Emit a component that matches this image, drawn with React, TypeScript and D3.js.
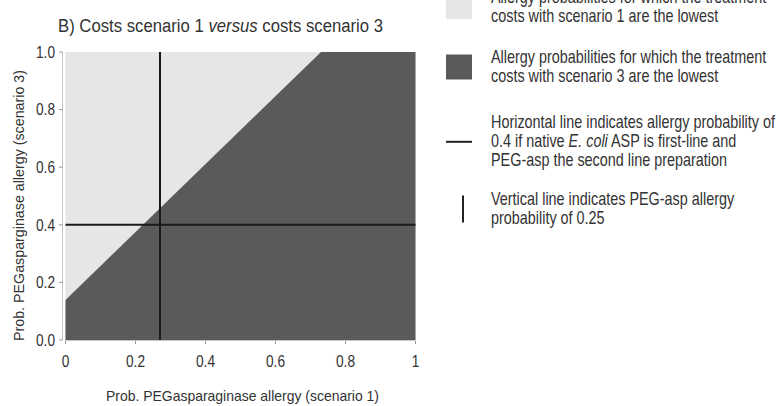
import { useMemo } from 'react';
import type { ReactNode } from 'react';
import * as d3 from 'd3';

// chart data
const xTicks = [0, 0.2, 0.4, 0.6, 0.8, 1];
const yTicks = [0, 0.2, 0.4, 0.6, 0.8, 1.0];
const boundaryX = [0, 0.73, 1];
const boundaryY = [0.139, 1, 1];
const horizontalAt = 0.4;
const verticalAt = 0.27;

const legendKinds = ['light', 'dark', 'hline', 'vline'];
const legendLines = [
  [['Allergy probabilities for which the treatment'], ['costs with scenario 1 are the lowest']],
  [['Allergy probabilities for which the treatment'], ['costs with scenario 3 are the lowest']],
  [
    ['Horizontal line indicates allergy probability of'],
    ['0.4 if native ', 'E. coli', ' ASP is first-line and'],
    ['PEG-asp the second line preparation'],
  ],
  [['Vertical line indicates PEG-asp allergy'], ['probability of 0.25']],
];

const FONT = '"Liberation Sans", Arial, sans-serif';
const LIGHT = '#e6e6e6';
const DARK = '#5a5a5a';
const TEXT = '#333';
const AXIS = '#c4c4c4';

const W = 779;
const H = 406;
const plot = { left: 65.5, right: 415.5, top: 52, bottom: 340 };

// condensed text: regular font squeezed horizontally
function Narrow({
  x,
  y,
  sx = 0.823,
  size = 17.5,
  anchor = 'start',
  children,
}: {
  x: number;
  y: number;
  sx?: number;
  size?: number;
  anchor?: 'start' | 'middle' | 'end';
  children: ReactNode;
}) {
  return (
    <text transform={`translate(${x},${y}) scale(${sx},1)`} fontSize={size} textAnchor={anchor} fill={TEXT}>
      {children}
    </text>
  );
}

export default function App() {
  const x = useMemo(() => d3.scaleLinear().domain([0, 1]).range([plot.left, plot.right]), []);
  const y = useMemo(() => d3.scaleLinear().domain([0, 1]).range([plot.bottom, plot.top]), []);

  const area = d3
    .area<number>()
    .x((d) => x(d))
    .y0(() => y(0))
    .y1((_, i) => y(boundaryY[i]));

  const legendBaselines = [2.5, 63, 128.3, 205];
  const lineH = 19;
  const swatchX = 446;
  const textX = 491;

  return (
    <div style={{ position: 'absolute', left: 0, top: 0 }}>
      <svg width={W} height={H} style={{ display: 'block', fontFamily: FONT }}>
        <rect width={W} height={H} fill="#fff" />
        <Narrow x={58} y={31.7} sx={0.95} size={17.6}>
          B) Costs scenario 1 <tspan fontStyle="italic">versus</tspan> costs scenario 3
        </Narrow>

        {/* background: scenario 1 cheapest */}
        <rect x={x(0)} y={y(1)} width={x(1) - x(0)} height={y(0) - y(1)} fill={LIGHT} />
        {/* scenario 3 cheapest */}
        <path d={area(boundaryX) ?? ''} fill={DARK} />

        {/* reference lines */}
        <line x1={x(0)} x2={x(1)} y1={y(horizontalAt)} y2={y(horizontalAt)} stroke="#1a1a1a" strokeWidth={2} />
        <line x1={x(verticalAt)} x2={x(verticalAt)} y1={y(1)} y2={y(0)} stroke="#1a1a1a" strokeWidth={2} />

        {/* y axis */}
        <line x1={62.5} x2={62.5} y1={y(1)} y2={y(0)} stroke={AXIS} />
        {yTicks.map((t) => (
          <g key={`y${t}`}>
            <line x1={59} x2={62.5} y1={y(t)} y2={y(t)} stroke="#999" />
            <Narrow x={55} y={y(t) + 5.8} sx={0.84} size={16.3} anchor="end">
              {t.toFixed(1)}
            </Narrow>
          </g>
        ))}
        {/* x axis */}
        <line x1={x(0)} x2={x(1)} y1={y(0) + 0.5} y2={y(0) + 0.5} stroke={AXIS} />
        {xTicks.map((t) => (
          <g key={`x${t}`}>
            <line x1={x(t)} x2={x(t)} y1={y(0) + 1} y2={y(0) + 4} stroke="#999" />
            <Narrow x={x(t)} y={366.7} sx={0.84} size={16.3} anchor="middle">
              {String(t)}
            </Narrow>
          </g>
        ))}

        <text x={106} y={401} fontSize={14.6} fill={TEXT} textLength={273} lengthAdjust="spacingAndGlyphs">
          Prob. PEGasparaginase allergy (scenario 1)
        </text>
        <text
          transform="translate(24,341) rotate(-90)"
          fontSize={14.6}
          fill={TEXT}
          textLength={271}
          lengthAdjust="spacingAndGlyphs"
        >
          Prob. PEGasparginase allergy (scenario 3)
        </text>

        {/* legend */}
        {legendKinds.map((kind, i) => {
          const base = legendBaselines[i];
          const lines = legendLines[i];
          const mid = base + ((lines.length - 1) * lineH) / 2 - 5.5;
          return (
            <g key={kind}>
              {kind === 'light' && <rect x={swatchX} y={mid - 12.5} width={26} height={25} fill={LIGHT} />}
              {kind === 'dark' && <rect x={swatchX} y={mid - 12.5} width={26} height={25} fill={DARK} />}
              {kind === 'hline' && (
                <line x1={swatchX} x2={swatchX + 26} y1={mid} y2={mid} stroke="#222" strokeWidth={2} />
              )}
              {kind === 'vline' && (
                <line x1={463} x2={463} y1={mid - 13.5} y2={mid + 13.5} stroke="#222" strokeWidth={2} />
              )}
              {lines.map((parts, j) => (
                <Narrow key={j} x={textX} y={base + j * lineH}>
                  {parts.map((p, k) => (
                    <tspan key={k} fontStyle={p === 'E. coli' ? 'italic' : undefined}>
                      {p}
                    </tspan>
                  ))}
                </Narrow>
              ))}
            </g>
          );
        })}
      </svg>
    </div>
  );
}
